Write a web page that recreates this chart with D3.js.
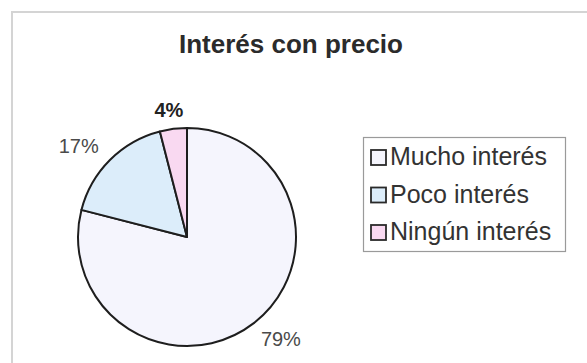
<!DOCTYPE html>
<html>
<head>
<meta charset="utf-8">
<script src="https://cdn.jsdelivr.net/npm/d3@7"></script>
<style>
  html, body { margin: 0; padding: 0; background: #fff; }
  svg { display: block; font-family: "Liberation Sans", Arial, sans-serif; }
</style>
</head>
<body>
<svg id="chart" width="587" height="363"></svg>
<script>
const title = "Interés con precio";
const categories = ["Mucho interés", "Poco interés", "Ningún interés"];
const values = [79, 17, 4];
const labels = ["79%", "17%", "4%"];
const colors = ["#f5f5fd", "#dcedfa", "#f9d9f1"];

const svg = d3.select("#chart");
const W = 587, H = 363;

// outer chart-area border (only top & left visible in the window)
svg.append("rect")
  .attr("x", 12).attr("y", 12)
  .attr("width", W + 20).attr("height", H + 20)
  .attr("fill", "#fff")
  .attr("stroke", "#d4d4d4")
  .attr("stroke-width", 2);

// title
svg.append("text")
  .attr("x", 291).attr("y", 53)
  .attr("text-anchor", "middle")
  .attr("font-size", 26)
  .attr("font-weight", "bold")
  .attr("fill", "#2b2b2b")
  .text(title);

// pie
const cx = 187, cy = 237, R = 109;
const pie = d3.pie().sort(null).value(d => d)(values);
const arc = d3.arc().innerRadius(0).outerRadius(R);
const g = svg.append("g").attr("transform", `translate(${cx},${cy})`);

g.selectAll("path.slice")
  .data(pie)
  .join("path")
  .attr("class", "slice")
  .attr("d", arc)
  .attr("fill", (d, i) => colors[i])
  .attr("stroke", "#1e1e1e")
  .attr("stroke-width", 2)
  .attr("stroke-linejoin", "round");

// data labels outside end
const labelR = 121;
g.selectAll("text.lbl")
  .data(pie)
  .join("text")
  .attr("class", "lbl")
  .attr("font-size", 20)
  .attr("font-weight", (d, i) => i === 2 ? "bold" : "normal")
  .attr("fill", (d, i) => i === 2 ? "#222" : "#4a4a4a")
  .attr("text-anchor", "middle")
  .attr("dominant-baseline", "central")
  .text((d, i) => labels[i])
  .each(function(d) {
    const a = (d.startAngle + d.endAngle) / 2;
    const s = Math.sin(a), c = -Math.cos(a);
    const bb = this.getBBox();
    const x = labelR * s + 1.6 * (bb.width / 2) * s;
    const y = labelR * c + (15 / 2) * c;
    d3.select(this).attr("x", x).attr("y", y);
  });

// legend
const lg = svg.append("g");
lg.append("rect")
  .attr("x", 363.5).attr("y", 137.5)
  .attr("width", 202).attr("height", 114)
  .attr("fill", "#fff")
  .attr("stroke", "#9a9a9a")
  .attr("stroke-width", 1.2);

const rowY = d3.scalePoint().domain(categories).range([165, 240]);
const items = lg.selectAll("g.item")
  .data(categories)
  .join("g")
  .attr("class", "item")
  .attr("transform", d => `translate(0,${rowY(d)})`);

items.append("rect")
  .attr("x", 371).attr("y", -15)
  .attr("width", 15).attr("height", 15)
  .attr("fill", (d, i) => colors[i])
  .attr("stroke", "#2a2a2a")
  .attr("stroke-width", 1.8);

items.append("text")
  .attr("x", 390).attr("y", 0)
  .attr("font-size", 25)
  .attr("fill", "#333")
  .text(d => d);
</script>
</body>
</html>
